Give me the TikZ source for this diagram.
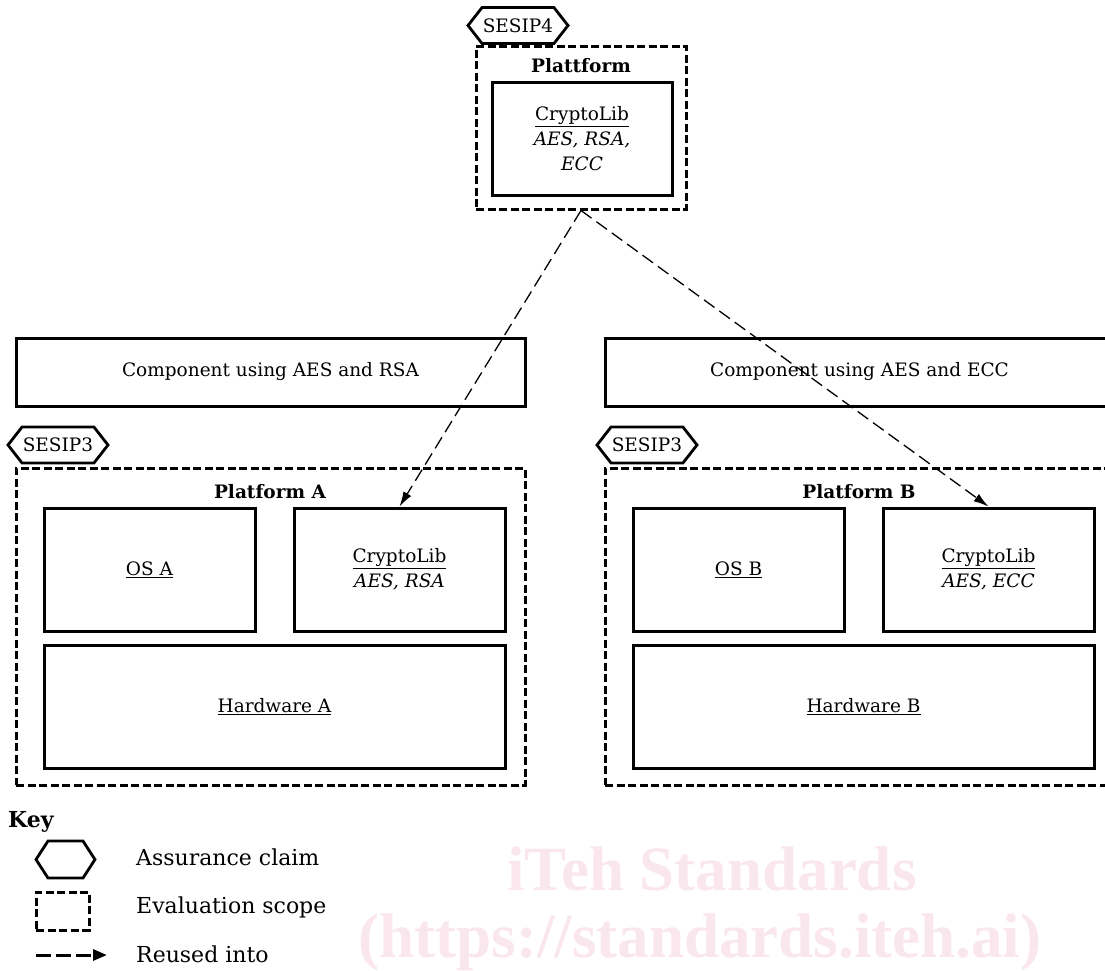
\documentclass[tikz,border=0pt]{standalone}
\usepackage{fontspec}
\setmainfont{DejaVu Serif}
\newfontfamily\wmfont{Liberation Serif}
\usetikzlibrary{arrows.meta,shapes.symbols}
\definecolor{wmpink}{RGB}{250,230,237}
\begin{document}
\begin{tikzpicture}[x=1pt,y=-1pt,
  every node/.style={font=\fontsize{18.5}{25}\selectfont},
  solidbox/.style={draw, line width=3pt, inner sep=0pt, align=center},
  scopebox/.style={draw, line width=3pt, inner sep=0pt, dash pattern=on 8pt off 3.5pt},
  hexclaim/.style={draw, line width=2.8pt, signal, signal to=east and west, signal pointer angle=104, inner sep=0pt, minimum width=100pt, minimum height=36pt},
  lbl/.style={font=\fontsize{18.5}{25}\selectfont\bfseries, anchor=base},
  reuse/.style={line width=1.3pt, dash pattern=on 13pt off 6pt, -{Latex[length=15pt,width=9pt]}},
  keytext/.style={font=\fontsize{22}{26}\selectfont, anchor=base west},
  wm/.style={font=\wmfont\fontsize{63}{70}\selectfont\bfseries, text=wmpink, anchor=base}
]
\useasboundingbox (0,0) rectangle (1105,970);
% watermark
\node[wm] (wm1) at (712,890) {iTeh Standards};
\node[wm] (wm2) at (700,957) {(https://standards.iteh.ai)};
% top platform
\node[hexclaim] (s4) at (518,25.5) {SESIP4};
\node[scopebox, minimum width=210pt, minimum height=163pt] (plat) at (581,127.5) {};
\node[lbl] (platl) at (581,72) {Plattform};
\node[solidbox, minimum width=180pt, minimum height=113pt] (cry4) at (582,138.5) {\underline{CryptoLib}\\\textit{AES, RSA,}\\\textit{ECC}};
% components
\node[solidbox, minimum width=509pt, minimum height=68pt] (compA) at (270.5,372) {Component using AES and RSA};
\node[solidbox, minimum width=509pt, minimum height=68pt] (compB) at (859.5,372) {Component using AES and ECC};
% left platform
\node[hexclaim] (s3a) at (58,445) {SESIP3};
\node[scopebox, minimum width=509pt, minimum height=317pt] (platA) at (270.5,626.5) {};
\node[lbl] (platAl) at (270,498) {Platform A};
\node[solidbox, minimum width=211pt, minimum height=123pt] (osA) at (149.5,569.5) {\underline{OS A}};
\node[solidbox, minimum width=211pt, minimum height=123pt] (cryA) at (399.5,569.5) {\underline{CryptoLib}\\\textit{AES, RSA}};
\node[solidbox, minimum width=461pt, minimum height=123pt] (hwA) at (274.5,706.5) {\underline{Hardware A}};
% right platform
\node[hexclaim] (s3b) at (647,445) {SESIP3};
\node[scopebox, minimum width=509pt, minimum height=317pt] (platB) at (859.5,626.5) {};
\node[lbl] (platBl) at (859,498) {Platform B};
\node[solidbox, minimum width=211pt, minimum height=123pt] (osB) at (738.5,569.5) {\underline{OS B}};
\node[solidbox, minimum width=211pt, minimum height=123pt] (cryB) at (988.5,569.5) {\underline{CryptoLib}\\\textit{AES, ECC}};
\node[solidbox, minimum width=461pt, minimum height=123pt] (hwB) at (863.5,706.5) {\underline{Hardware B}};
% reuse arrows
\draw[reuse] (plat.south) -- (cryA.north);
\draw[reuse] (plat.south) -- (cryB.north);
% key
\node[font=\fontsize{22}{26}\selectfont\bfseries, anchor=base west, inner sep=0pt] (key) at (8,827) {Key};
\node[hexclaim, minimum width=59pt, minimum height=37pt, signal pointer angle=114] (khex) at (65.5,859.5) {};
\node[scopebox, minimum width=53pt, minimum height=38pt] (kscope) at (62.5,911) {};
\coordinate (ka1) at (36,955);
\coordinate (ka2) at (107,955);
\draw[line width=3pt, dash pattern=on 15pt off 5pt, -{Triangle[length=14pt,width=11pt]}] (ka1) -- (ka2);
\node[keytext, inner sep=0pt] (k1) at (136,865) {Assurance claim};
\node[keytext, inner sep=0pt] (k2) at (136,913) {Evaluation scope};
\node[keytext, inner sep=0pt] (k3) at (136,962) {Reused into};
\end{tikzpicture}
\end{document}
